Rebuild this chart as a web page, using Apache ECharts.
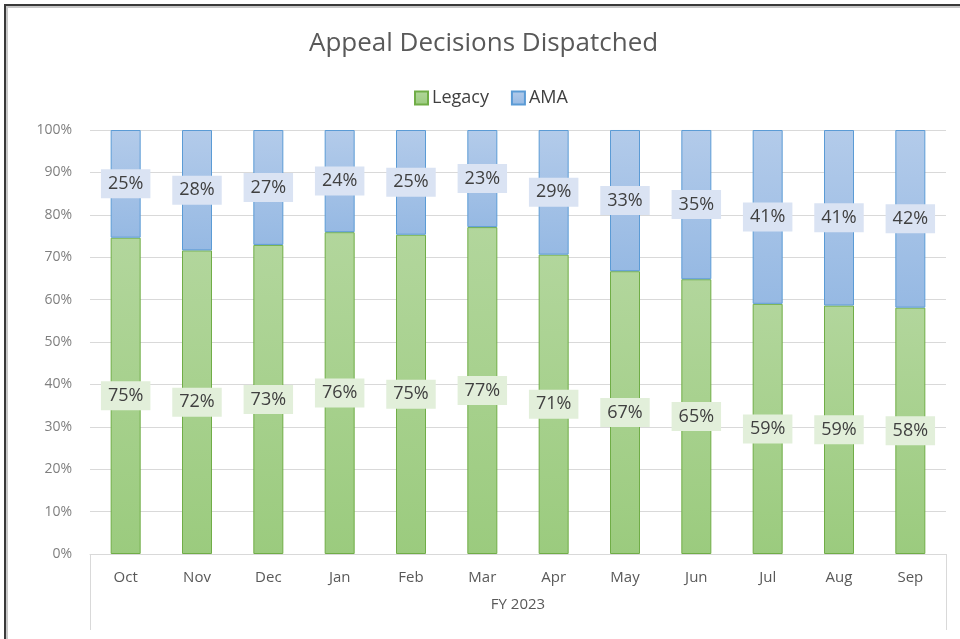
<!DOCTYPE html>
<html>
<head>
<meta charset="utf-8">
<script src="https://cdn.jsdelivr.net/npm/echarts@6/dist/echarts.min.js"></script>
<style>
  html, body { margin: 0; padding: 0; background: #fff; }
  #main { width: 960px; height: 639px; }
</style>
</head>
<body>
<div id="main"></div>
<script>
let months = ['Oct', 'Nov', 'Dec', 'Jan', 'Feb', 'Mar', 'Apr', 'May', 'Jun', 'Jul', 'Aug', 'Sep'];
let fiscalYear = ['FY 2023'];
// share of decisions, percent
let legacy = [74.6, 71.6, 72.9, 75.9, 75.3, 77.1, 70.6, 66.7, 64.8, 59.0, 58.6, 58.1];
let ama = [25.4, 28.4, 27.1, 24.1, 24.7, 22.9, 29.4, 33.3, 35.2, 41.0, 41.4, 41.9];

let font = '"Open Sans", "Liberation Sans", sans-serif';

let myChart = echarts.init(document.getElementById('main'));

let pctLabel = function (bg) {
    return {
        show: true,
        position: 'inside',
        formatter: function (p) { return Math.round(p.value) + '%'; },
        color: '#404040',
        fontFamily: font,
        fontSize: 18,
        backgroundColor: bg,
        padding: [6, 7, 5, 7]
    };
};

let option = {
    animation: false,
    backgroundColor: '#ffffff',
    title: {
        text: 'Appeal Decisions Dispatched',
        left: 304,
        top: 26,
        textStyle: {
            color: '#595959',
            fontFamily: font,
            fontSize: 26,
            fontWeight: 'normal'
        }
    },
    legend: {
        data: ['Legacy', 'AMA'],
        left: 409,
        top: 84,
        itemWidth: 13,
        itemHeight: 13,
        itemGap: 22,
        icon: 'rect',
        textStyle: { color: '#404040', fontFamily: font, fontSize: 18, padding: [0, 0, 0, -1] }
    },
    grid: { left: 90, right: 14, top: 130, bottom: 85, containLabel: false },
    xAxis: [
        {
            type: 'category',
            data: months,
            axisLine: { show: true, lineStyle: { color: '#d9d9d9', width: 1 } },
            axisTick: { show: false },
            axisLabel: { color: '#595959', fontFamily: font, fontSize: 15, margin: 16 }
        },
        {
            type: 'category',
            data: fiscalYear,
            position: 'bottom',
            axisLine: { show: false },
            axisTick: { show: true, length: 76, interval: 0, lineStyle: { color: '#d9d9d9' } },
            axisLabel: { color: '#595959', fontFamily: font, fontSize: 15, margin: 43 }
        }
    ],
    yAxis: {
        type: 'value',
        min: 0,
        max: 100,
        interval: 10,
        axisLine: { show: false },
        axisTick: { show: false },
        splitLine: { lineStyle: { color: '#d9d9d9', width: 1 } },
        axisLabel: {
            formatter: '{value}%',
            color: '#7f7f7f',
            fontFamily: font,
            fontSize: 14,
            margin: 18
        }
    },
    series: [
        {
            name: 'Legacy',
            type: 'bar',
            stack: 'total',
            barWidth: 30,
            data: legacy,
            itemStyle: {
                color: new echarts.graphic.LinearGradient(0, 0, 0, 1, [
                    { offset: 0, color: '#b2d69c' },
                    { offset: 1, color: '#9bcb7e' }
                ]),
                borderColor: '#70ad47',
                borderWidth: 1
            },
            label: pctLabel('#e2efda')
        },
        {
            name: 'AMA',
            type: 'bar',
            stack: 'total',
            barWidth: 30,
            data: ama,
            itemStyle: {
                color: new echarts.graphic.LinearGradient(0, 0, 0, 1, [
                    { offset: 0, color: '#b3cbea' },
                    { offset: 1, color: '#96b9e3' }
                ]),
                borderColor: '#5b9bd5',
                borderWidth: 1
            },
            label: pctLabel('#dae3f3')
        }
    ],
    graphic: [
        {
            type: 'rect',
            shape: { x: 5, y: 5, width: 1000, height: 700 },
            style: { fill: 'none', stroke: '#3a3a3a', lineWidth: 2 },
            silent: true
        },
        {
            type: 'rect',
            shape: { x: 7, y: 7, width: 1000, height: 700 },
            style: { fill: 'none', stroke: '#c8c8c8', lineWidth: 2 },
            silent: true
        }
    ]
};

myChart.setOption(option);
</script>
</body>
</html>
